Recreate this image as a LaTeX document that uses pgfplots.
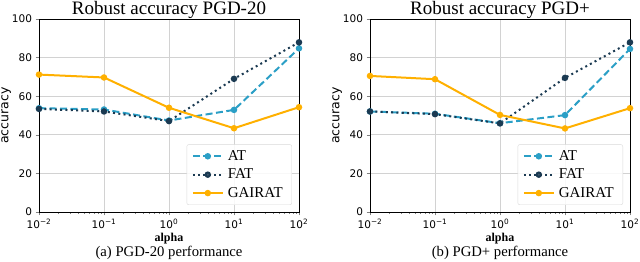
\documentclass[border=0pt]{standalone}
\usepackage{fontspec}
\setmainfont{Liberation Serif}
\newfontfamily\dejavu{DejaVu Sans}
\usepackage{pgfplots}
\pgfplotsset{compat=1.18}
\definecolor{atc}{HTML}{2B9FC6}
\definecolor{fatc}{HTML}{1B3A52}
\definecolor{gac}{HTML}{FFB000}
\tikzset{
  sAT/.style={atc, dash pattern=on 7pt off 3.5pt},
  sFAT/.style={fatc, dash pattern=on 2pt off 3.3pt},
  sGA/.style={gac, solid},
}
\pgfplotsset{
  every axis title shift=0pt,
  every axis/.append style={
    scale only axis, width=260pt, height=193pt, anchor=south west,
    ymin=0, ymax=100,
    ytick={0,20,40,60,80,100}, yticklabels={0,20,40,60,80,100},
    tick label style={font=\dejavu\fontsize{10.5}{12}\selectfont},
    tick align=outside, xtick pos=left, ytick pos=left,
    major tick length=3.5pt, minor tick length=2pt,
    grid=major, major grid style={gray!35, line width=0.7pt},
    axis line style={black, line width=0.8pt},
    xlabel={\bfseries alpha}, xlabel style={font=\fontsize{12}{14}\selectfont, yshift=2pt},
    ylabel={accuracy}, ylabel style={font=\dejavu\fontsize{12.5}{14}\selectfont, yshift=-6pt},
    title style={font=\fontsize{19}{22}\selectfont, at={(0.5,1)}, anchor=base, yshift=4pt},
    legend style={at={(1,0)}, anchor=south east, xshift=-7pt, yshift=7pt,
      draw=gray!30, rounded corners=2pt, fill=white, fill opacity=0.85, text opacity=1,
      font=\fontsize{15}{17}\selectfont, row sep=3pt, inner xsep=5pt, inner ysep=4pt,
      nodes={inner xsep=4pt}},
    legend cell align=left,
    legend image code/.code={\draw[mark repeat=2,mark phase=2] plot coordinates {(0pt,0pt) (15pt,0pt) (30pt,0pt)};},
  },
  every axis plot/.append style={line width=2pt, mark=*, mark size=2.2pt, mark options={solid}},
}
\begin{document}
\begin{tikzpicture}
\path[use as bounding box] (0,0) rectangle (640pt,262pt);
\begin{semilogxaxis}[at={(39pt,50pt)}, title={Robust accuracy PGD-20},
    xmin=0.01, xmax=100, xtick={0.01,0.1,1,10,100},
    xticklabels={10\textsuperscript{−2},10\textsuperscript{−1},10\textsuperscript{0},10\textsuperscript{1},10\textsuperscript{2}}]
\addplot[sAT] coordinates {(0.01,53.8) (0.1,53.1) (1,47.4) (10,52.9) (100,84.8)};
\addlegendentry{AT}
\addplot[sFAT] coordinates {(0.01,53.4) (0.1,52.1) (1,47.1) (10,69.0) (100,87.9)};
\addlegendentry{FAT}
\addplot[sGA] coordinates {(0.01,71.2) (0.1,69.7) (1,54.0) (10,43.4) (100,54.3)};
\addlegendentry{GAIRAT}
\end{semilogxaxis}
\begin{semilogxaxis}[at={(370pt,50pt)}, title={Robust accuracy PGD+},
    xmin=0.01, xmax=100, xtick={0.01,0.1,1,10,100},
    xticklabels={10\textsuperscript{−2},10\textsuperscript{−1},10\textsuperscript{0},10\textsuperscript{1},10\textsuperscript{2}}]
\addplot[sAT] coordinates {(0.01,52.1) (0.1,50.9) (1,46.0) (10,50.2) (100,84.5)};
\addlegendentry{AT}
\addplot[sFAT] coordinates {(0.01,52.1) (0.1,50.7) (1,45.9) (10,69.5) (100,87.9)};
\addlegendentry{FAT}
\addplot[sGA] coordinates {(0.01,70.5) (0.1,68.8) (1,50.3) (10,43.3) (100,53.8)};
\addlegendentry{GAIRAT}
\end{semilogxaxis}
\node[font=\fontsize{14.7}{17}\selectfont, anchor=base] at (169pt,5pt) {(a) PGD-20 performance};
\node[font=\fontsize{14.7}{17}\selectfont, anchor=base] at (500pt,5pt) {(b) PGD+ performance};
\end{tikzpicture}
\end{document}
